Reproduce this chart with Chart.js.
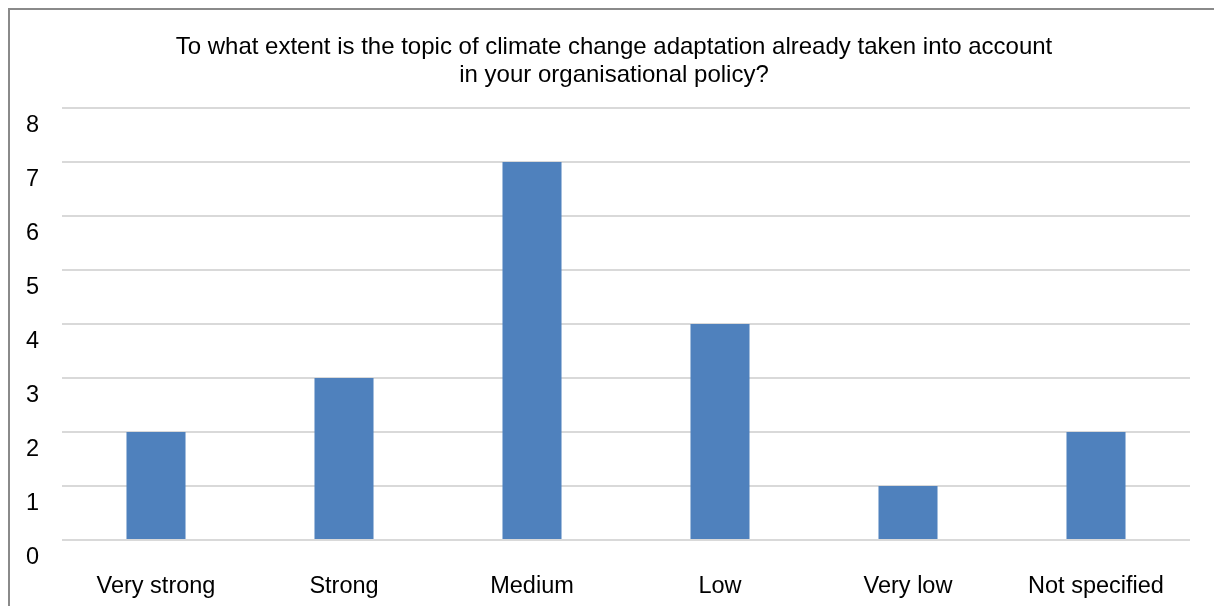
<!DOCTYPE html>
<html>
<head>
<meta charset="utf-8">
<title>Climate change adaptation in organisational policy</title>
<script src="https://cdn.jsdelivr.net/npm/chart.js@4/dist/chart.umd.min.js"></script>
<style>
	html, body { margin: 0; padding: 0; background: #fff; overflow: hidden; }
	#frame {
		position: absolute; left: 8px; top: 8px; width: 1260px; height: 660px;
		border-left: 2px solid #8a8a8a; border-top: 2px solid #8a8a8a;
	}
	#wrap { position: absolute; left: 0; top: 0; width: 1228px; height: 606px; }
</style>
</head>
<body>
<div id="frame"></div>
<div id="wrap"><canvas id="policyChart" width="1228" height="606"></canvas></div>
<script>
// Survey answers: how far climate change adaptation is part of organisational policy.
var categories = ["Very strong", "Strong", "Medium", "Low", "Very low", "Not specified"];
var counts = [2, 3, 7, 4, 1, 2];
var yTicks = [0, 1, 2, 3, 4, 5, 6, 7, 8];
var titleLines = [
	"To what extent is the topic of climate change adaptation already taken into account",
	"in your organisational policy?"
];

var FONT = "'Liberation Sans', Arial, Helvetica, sans-serif";
var BAR_COLOR = "#4f81bd";
var GRID_COLOR = "#d9d9d9";

var ctx = document.getElementById("policyChart");
new Chart(ctx, {
	type: "bar",
	data: {
		labels: categories,
		datasets: [{
			data: counts,
			backgroundColor: BAR_COLOR,
			borderWidth: 0,
			barPercentage: 0.314,
			categoryPercentage: 1
		}]
	},
	options: {
		responsive: false,
		animation: false,
		layout: { padding: 0 },
		scales: {
			x: {
				grid: { display: false, drawTicks: false },
				border: { display: false },
				ticks: {
					color: "#000",
					font: { family: FONT, size: 23.5, lineHeight: 1.2 },
					padding: 32,
					maxRotation: 0
				},
				afterFit: function(scale) { scale.height = 66; }
			},
			y: {
				min: 0,
				max: 8,
				afterBuildTicks: function(scale) {
					scale.ticks = yTicks.map(function(v) { return { value: v }; });
				},
				grid: { color: GRID_COLOR, lineWidth: 2, drawTicks: false },
				border: { display: false },
				ticks: {
					autoSkip: false,
					color: "#000",
					font: { family: FONT, size: 23.5, lineHeight: 1.45 },
					padding: 23,
					// an empty first line drops each number just under its gridline
					callback: function(v) { return ["", String(v)]; }
				},
				afterFit: function(scale) { scale.width = 62; }
			},
			// empty right-hand strip keeps the plot clear of the frame edge
			spacer: {
				type: "linear",
				position: "right",
				grid: { display: false, drawTicks: false },
				border: { display: false },
				ticks: { display: false },
				afterFit: function(scale) { scale.width = 38; }
			}
		},
		plugins: {
			legend: { display: false },
			tooltip: { enabled: false },
			title: {
				display: true,
				text: titleLines,
				color: "#000",
				font: { family: FONT, size: 24, weight: "normal", lineHeight: 1.2 },
				padding: { top: 32.6, bottom: 17.8 }
			}
		}
	}
});
</script>
</body>
</html>
